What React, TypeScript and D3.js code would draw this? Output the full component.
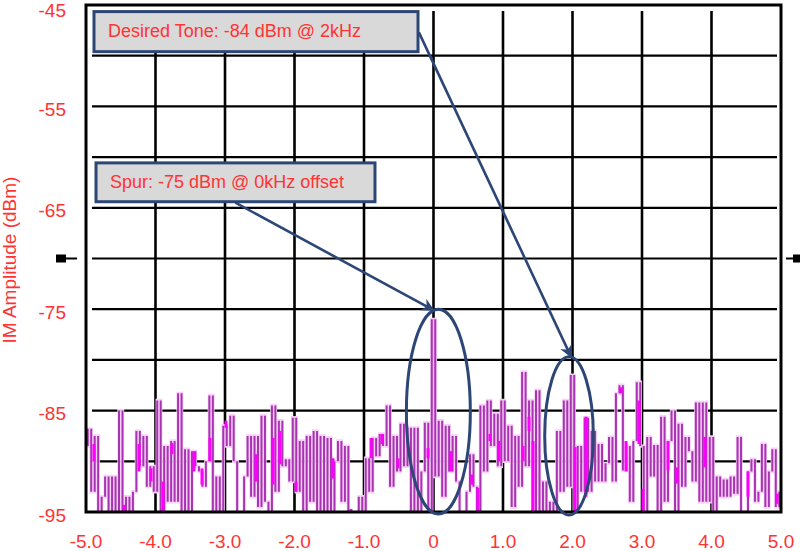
import React from "react";
import * as d3 from "d3";

// spectrum sampled every 0.05 kHz from -5 kHz
const FREQ_START = -5;
const FREQ_STEP = 0.05;

// IM amplitude (dBm)
const amplitude = [
  -88.5, -86.8, -93, -87.5, -95.5, -93.5, -91.5, -95.5, -91.5, -95.5,
  -85, -95.5, -93.5, -95.5, -93, -87, -90.5, -87.5, -92.5, -90.5,
  -93, -84, -95.5, -88.5, -94, -88, -94, -83.3, -95.5, -88.8,
  -95.5, -89, -90.5, -91, -92.5, -90, -83.5, -95.5, -91.5, -95.5,
  -86.5, -88.5, -85.5, -90, -95.5, -95.5, -91.5, -87.5, -93.5, -87.5,
  -94.5, -85.5, -94, -95.5, -84.5, -93, -86, -90.5, -89.8, -92,
  -85.7, -93, -88, -95, -87.5, -94, -87, -95, -87.5, -95,
  -87.7, -95.5, -90, -88, -94, -88.5, -95.5, -95.5, -95.5, -93.5,
  -95.5, -89.7, -93, -87.7, -89.5, -87.3, -88.5, -84.5, -92.5, -87.5,
  -91, -86.3, -90.5, -86.7, -95.5, -86.7, -95.5, -91, -86.2, -95.5,
  -76, -91.5, -86, -93.5, -86.5, -91, -87.5, -92, -95.5, -95,
  -93, -89.3, -92.5, -95.5, -84.5, -91, -84, -88.5, -85.3, -90.5,
  -84, -90, -86.5, -94.5, -87.5, -92.5, -81.2, -90.5, -84, -95.5,
  -83, -95.5, -92, -95.5, -94, -95.5, -87, -93, -84, -92.5,
  -81.5, -95.5, -88.5, -93, -85.7, -93, -87, -92, -88.3, -92,
  -90.2, -87.6, -92, -83.3, -82.5, -90.9, -88.5, -94, -88, -82.2,
  -88.5, -94.9, -87.6, -91.5, -88.4, -95, -85.6, -94, -88, -85,
  -95, -86.3, -92.5, -87.6, -89, -92, -84.2, -94, -84.2, -94,
  -87.6, -95, -91.5, -93.5, -91.8, -93.5, -91.5, -93.2, -87.6, -95,
  -95.5, -91, -89.8, -94, -93, -88.3, -94.5, -91, -88.8, -94.5,
  -93,
];

// bright magenta bursts on top of the trace
const burstFreq = [
  -4.885, -4.453, -4.237, -4.065, -3.89, -3.763, -3.446, -3.331, -3.216, -2.986,
  -2.554, -2.309, -2.209, -1.978, -1.446, -1.187, -0.899, -0.741, -0.511, -0.079,
  0.252, 0.554, 0.64, 0.813, 0.942, 1.288, 1.374, 1.432, 2.036, 2.194,
  2.698, 2.77, 2.957, 3.014, 3.374, 3.504, 3.906, 4.525, 4.942,
];
const burstTop = [
  -88.3, -94.3, -88.3, -90.7, -92, -88.2, -89, -90.7, -87.7, -86,
  -89.3, -87.7, -87, -92, -89.7, -94.7, -87.7, -87.3, -89.7, -88.7,
  -89, -91.3, -92.6, -87.3, -88, -88.5, -85.6, -88, -88.6, -85.6,
  -82.7, -88, -84, -92.7, -88, -90.6, -87.6, -91, -93.2,
];
const burstBottom = [
  -90, -95.3, -91, -92, -95.3, -89.3, -91, -92.3, -90, -86.7,
  -92, -92.3, -90.3, -93, -91.7, -95.3, -89.7, -88.3, -90.7, -89.7,
  -91, -92.3, -95, -88, -90, -90, -87, -95, -95, -93.5,
  -83.3, -91, -88.3, -94.9, -90.9, -92.2, -90.6, -93.5, -94.2,
];

const xTicks = [-5, -4, -3, -2, -1, 0, 1, 2, 3, 4, 5];
const xTickLabels = ["-5.0", "-4.0", "-3.0", "-2.0", "-1.0", "0", "1.0", "2.0", "3.0", "4.0", "5.0"];
const yTicks = [-45, -55, -65, -75, -85, -95];
const yGrid = [-50, -55, -60, -65, -70, -75, -80, -85, -90];
const xGrid = [-4, -3, -2, -1, 0, 1, 2, 3, 4];

// callouts, in kHz / dBm
const callouts = [
  { text: "Desired Tone: -84 dBm @ 2kHz", x0: -4.885, x1: -0.223, y0: -45.65, y1: -49.6, fromX: -0.21, fromY: -47.7, toX: 1.98, toY: -79.7 },
  { text: "Spur: -75 dBm @ 0kHz offset", x0: -4.856, x1: -0.842, y0: -60.57, y1: -64.4, fromX: -2.85, fromY: -64.5, toX: 0.0, toY: -75.1 },
];
const rings = [
  { cx: 0.07, cy: -85.1, rx: 0.46, ry: 10.1 },
  { cx: 1.95, cy: -87.5, rx: 0.35, ry: 7.8 },
];

const W = 800;
const H = 551;
const RED = "#ff3333";
const NAVY = "#2c4675";
const FONT = "Arial, 'Liberation Sans', sans-serif";

export default function App() {
  const x = d3.scaleLinear().domain([-5, 5]).range([86, 781]);
  const y = d3.scaleLinear().domain([-95, -45]).range([512, 5]);

  // trace drawn as the vertical risers between consecutive samples
  const risers = d3.path();
  amplitude.forEach((v, i) => {
    if (i === amplitude.length - 1) return;
    const xm = x(FREQ_START + (i + 0.5) * FREQ_STEP);
    const y1 = y(v);
    const y2 = y(amplitude[i + 1]);
    risers.moveTo(xm, Math.min(y1, y2));
    risers.lineTo(xm, Math.max(y1, y2));
  });
  const tracePath = risers.toString();

  const yMarker = y(-70);

  return (
    <svg
      width={W}
      height={H}
      style={{ position: "absolute", left: 0, top: 0, background: "#fff" }}
      fontFamily={FONT}
    >
      <defs>
        <clipPath id="plot">
          <rect x={x(-5)} y={y(-45)} width={x(5) - x(-5)} height={y(-95) - y(-45)} />
        </clipPath>
        <marker id="head" viewBox="0 0 10 10" refX="9" refY="5" markerWidth="5" markerHeight="5" orient="auto">
          <path d="M0,0 L10,5 L0,10 L3,5 Z" fill={NAVY} />
        </marker>
      </defs>

      {/* grid */}
      {xGrid.map((t) => (
        <line key={"vx" + t} x1={x(t)} x2={x(t)} y1={11} y2={y(-95)} stroke="#000" strokeWidth={2.6} />
      ))}
      {yGrid.map((t) => (
        <line key={"hy" + t} x1={92} x2={777} y1={y(t)} y2={y(t)} stroke="#000" strokeWidth={2.2} />
      ))}

      {/* spectrum */}
      <g clipPath="url(#plot)">
        <path d={tracePath} fill="none" stroke="#f8d0f8" strokeWidth={3.4} strokeLinecap="square" />
        <path d={tracePath} fill="none" stroke="#a834b2" strokeWidth={2} />
        {burstFreq.map((f, i) => (
          <line
            key={"b" + i}
            x1={x(f)}
            x2={x(f)}
            y1={y(burstTop[i])}
            y2={y(burstBottom[i])}
            stroke="#ff00ff"
            strokeWidth={3}
          />
        ))}
      </g>

      {/* frame */}
      <rect x={x(-5)} y={y(-45)} width={x(5) - x(-5)} height={y(-95) - y(-45)} fill="none" stroke="#000" strokeWidth={3} />

      {/* -70 markers */}
      <rect x={56} y={yMarker - 4} width={10} height={8} fill="#000" />
      <line x1={66} x2={77} y1={yMarker} y2={yMarker} stroke="#000" strokeWidth={2} />
      <line x1={786} x2={794} y1={yMarker} y2={yMarker} stroke="#000" strokeWidth={2} />
      <rect x={793} y={yMarker - 4} width={8} height={8} fill="#000" />

      {/* y ticks */}
      {yTicks.map((t) => (
        <text key={"yt" + t} x={66} y={Math.max(y(t) + 3, 10)} dy="0.35em" textAnchor="end" fontSize={19} fill={RED}>
          {t}
        </text>
      ))}
      {/* x ticks */}
      {xTicks.map((t, i) => (
        <text key={"xt" + t} x={x(t)} y={548} textAnchor="middle" fontSize={19} fill={RED}>
          {xTickLabels[i]}
        </text>
      ))}
      <text transform="translate(16,260) rotate(-90)" textAnchor="middle" fontSize={19} fill={RED}>
        IM Amplitude (dBm)
      </text>

      {/* rings */}
      {rings.map((r, i) => (
        <ellipse
          key={"r" + i}
          cx={x(r.cx)}
          cy={y(r.cy)}
          rx={x(r.rx) - x(0)}
          ry={y(-95) - y(-95 + r.ry)}
          fill="none"
          stroke={NAVY}
          strokeWidth={3}
        />
      ))}

      {/* callouts */}
      {callouts.map((c, i) => (
        <g key={"c" + i}>
          <line
            x1={x(c.fromX)}
            y1={y(c.fromY)}
            x2={x(c.toX)}
            y2={y(c.toY)}
            stroke={NAVY}
            strokeWidth={2.6}
            markerEnd="url(#head)"
          />
          <rect
            x={x(c.x0)}
            y={y(c.y0)}
            width={x(c.x1) - x(c.x0)}
            height={y(c.y1) - y(c.y0)}
            fill="#d9d9d9"
            stroke={NAVY}
            strokeWidth={3}
          />
          <text x={x(c.x0) + 14} y={y(c.y0) + 25.5} fontSize={18} fill={RED}>
            {c.text}
          </text>
        </g>
      ))}
    </svg>
  );
}
